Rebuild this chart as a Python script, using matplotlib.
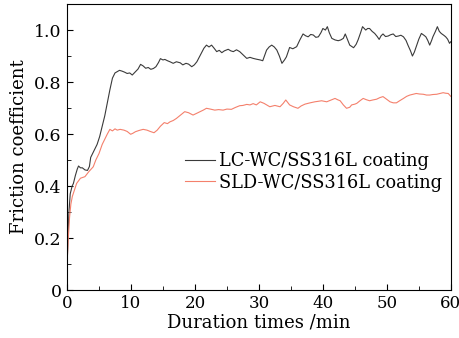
import matplotlib
matplotlib.use("Agg")
import matplotlib.pyplot as plt
from matplotlib.ticker import MultipleLocator, FuncFormatter

# LC-WC/SS316L coating
t_lc = [0, 0.15, 0.3, 0.5, 0.8, 1.0, 1.3, 1.6, 1.8, 2.1, 2.4, 2.8, 3.2, 3.5, 3.7, 4.1, 4.7,
        5.1, 5.5, 5.9, 6.3, 6.7, 7.1, 7.5, 7.85, 8.2, 8.6, 9.0, 9.4, 9.8, 10.2, 10.7, 11.1,
        11.5, 11.9, 12.3, 12.7, 13.1, 13.5, 13.9, 14.3, 14.6, 15.0, 15.3, 15.7, 16.1, 16.6,
        17.1, 17.7, 18.1, 18.6, 19.0, 19.5, 19.9, 20.3, 20.6, 21.0, 21.4, 21.8, 22.2, 22.6,
        23.0, 23.4, 23.8, 24.2, 24.6, 25.2, 25.6, 26.0, 26.5, 27.0, 27.5, 28.1, 28.6, 29.1,
        29.6, 30.2, 30.6, 31.2, 31.6, 32.0, 32.4, 32.8, 33.2, 33.6, 34.0, 34.3, 34.8, 35.3,
        35.9, 36.4, 36.9, 37.3, 37.7, 38.1, 38.5, 38.9, 39.3, 39.7, 40.0, 40.4, 40.7, 41.0,
        41.4, 41.9, 42.4, 42.8, 43.2, 43.5, 43.9, 44.2, 44.8, 45.2, 45.5, 45.9, 46.2, 46.7,
        47.0, 47.3, 47.7, 48.1, 48.5, 48.8, 49.1, 49.4, 49.8, 50.2, 50.6, 51.0, 51.4, 51.8,
        52.2, 52.6, 53.0, 53.3, 53.7, 54.0, 54.3, 54.6, 55.0, 55.4, 55.8, 56.1, 56.4, 56.7,
        57.0, 57.2, 57.6, 57.9, 58.2, 58.5, 58.9, 59.2, 59.5, 59.8, 60.0]
f_lc = [0.08, 0.2, 0.3, 0.37, 0.4, 0.41, 0.44, 0.465, 0.477, 0.47, 0.47, 0.462, 0.46, 0.475,
        0.51, 0.53, 0.56, 0.59, 0.63, 0.67, 0.72, 0.77, 0.815, 0.835, 0.84, 0.845, 0.842,
        0.838, 0.833, 0.835, 0.827, 0.84, 0.85, 0.868, 0.862, 0.853, 0.856, 0.849, 0.852,
        0.859, 0.875, 0.89, 0.885, 0.887, 0.882, 0.878, 0.872, 0.878, 0.874, 0.866, 0.872,
        0.869, 0.859, 0.866, 0.878, 0.892, 0.91, 0.93, 0.942, 0.935, 0.942, 0.93, 0.917,
        0.922, 0.913, 0.92, 0.926, 0.92, 0.917, 0.924, 0.917, 0.905, 0.891, 0.895, 0.891,
        0.888, 0.885, 0.882, 0.923, 0.935, 0.942, 0.935, 0.923, 0.9, 0.872, 0.885, 0.897,
        0.933, 0.928, 0.936, 0.962, 0.985, 0.978, 0.974, 0.983, 0.981, 0.972, 0.974, 0.99,
        1.006, 1.0, 1.013, 0.99, 0.968, 0.962, 0.959, 0.962, 0.968, 0.985, 0.96, 0.942,
        0.932, 0.945, 0.962, 0.99, 1.013, 1.0, 1.006, 1.006, 0.995, 0.987, 0.975, 0.964,
        0.978, 0.985, 0.975, 0.977, 0.982, 0.985, 0.975, 0.977, 0.98, 0.974, 0.96, 0.942,
        0.92, 0.9, 0.915, 0.936, 0.965, 0.987, 0.98, 0.974, 0.96, 0.942, 0.96, 0.974, 0.995,
        1.013, 0.995, 0.987, 0.98, 0.974, 0.965, 0.949, 0.955]

# SLD-WC/SS316L coating
t_sld = [0, 0.2, 0.4, 0.6, 0.83, 1.1, 1.5, 2.1, 2.8, 3.4, 4.1, 4.5, 5.0, 5.5, 5.9, 6.3, 6.7,
         7.1, 7.5, 7.85, 8.3, 8.9, 9.4, 9.95, 10.3, 10.7, 11.3, 11.9, 12.5, 13.0, 13.6, 14.1,
         14.6, 15.2, 15.7, 16.1, 16.6, 17.1, 17.7, 18.4, 19.0, 19.7, 20.3, 20.8, 21.3, 21.8,
         22.4, 23.1, 23.7, 24.4, 25.0, 25.7, 26.3, 27.0, 27.5, 28.1, 28.6, 29.1, 29.6, 30.2,
         30.8, 31.7, 32.5, 33.3, 33.8, 34.2, 34.8, 35.4, 36.1, 36.6, 37.2, 38.0, 38.75, 39.3,
         39.8, 40.2, 40.6, 41.2, 41.9, 42.3, 42.7, 43.2, 43.7, 44.2, 44.5, 45.0, 45.3, 45.8,
         46.3, 46.8, 47.3, 47.8, 48.4, 48.9, 49.4, 49.9, 50.5, 51.0, 51.5, 52.0, 52.6, 53.1,
         53.6, 54.1, 54.6, 55.1, 55.7, 56.2, 56.7, 57.2, 57.8, 58.3, 58.8, 59.2, 59.6, 60.0]
f_sld = [0.1, 0.2, 0.28, 0.33, 0.36, 0.38, 0.41, 0.43, 0.436, 0.455, 0.474, 0.5, 0.525, 0.56,
         0.58, 0.6, 0.618, 0.612, 0.62, 0.615, 0.618, 0.615, 0.61, 0.599, 0.603, 0.609, 0.614,
         0.618, 0.615, 0.61, 0.605, 0.615, 0.63, 0.644, 0.64, 0.647, 0.652, 0.66, 0.672, 0.686,
         0.682, 0.673, 0.68, 0.686, 0.692, 0.699, 0.696, 0.692, 0.694, 0.692, 0.696, 0.695,
         0.702, 0.709, 0.71, 0.714, 0.712, 0.717, 0.712, 0.724, 0.718, 0.705, 0.71, 0.705,
         0.718, 0.731, 0.712, 0.705, 0.699, 0.708, 0.715, 0.72, 0.724, 0.726, 0.728, 0.726,
         0.724, 0.73, 0.737, 0.732, 0.728, 0.712, 0.699, 0.703, 0.712, 0.715, 0.718, 0.728,
         0.737, 0.732, 0.728, 0.731, 0.734, 0.74, 0.744, 0.735, 0.724, 0.72, 0.72, 0.728,
         0.737, 0.745, 0.75, 0.753, 0.756, 0.754, 0.753, 0.75, 0.75, 0.752, 0.753, 0.756,
         0.759, 0.757, 0.756, 0.745]

plt.rcParams['font.family'] = ['DejaVu Serif']

fig = plt.figure(figsize=(4.6, 3.38), dpi=100)
ax = fig.add_axes([0.1457, 0.142, 0.8343, 0.846])

ax.plot(t_lc, f_lc, color="#3a3a3a", lw=0.8, label="LC-WC/SS316L coating")
ax.plot(t_sld, f_sld, color="#f4806c", lw=0.8, label="SLD-WC/SS316L coating")

ax.set_xlim(0, 60)
ax.set_ylim(0, 1.1)
ax.xaxis.set_major_locator(MultipleLocator(10))
ax.xaxis.set_minor_locator(MultipleLocator(5))
ax.yaxis.set_major_locator(MultipleLocator(0.2))
ax.yaxis.set_minor_locator(MultipleLocator(0.1))
ax.yaxis.set_major_formatter(FuncFormatter(lambda v, p: "0" if abs(v) < 1e-9 else "%.1f" % v))
ax.tick_params(which='both', direction='in', top=False, right=False)
ax.tick_params(axis='y', labelsize=12.5, pad=4)
ax.tick_params(axis='x', labelsize=12)
ax.tick_params(which='major', length=4)
ax.tick_params(which='minor', length=3)

ax.set_xlabel("Duration times /min", fontsize=13, labelpad=1)
ax.set_ylabel("Friction coefficient", fontsize=13, labelpad=4)

ax.legend(loc='center left', bbox_to_anchor=(0.307, 0.413), frameon=False, fontsize=12.8,
          borderpad=0, borderaxespad=0, handlelength=1.7, handletextpad=0.2,
          labelspacing=0.2)

plt.savefig("out.png", dpi=100)
